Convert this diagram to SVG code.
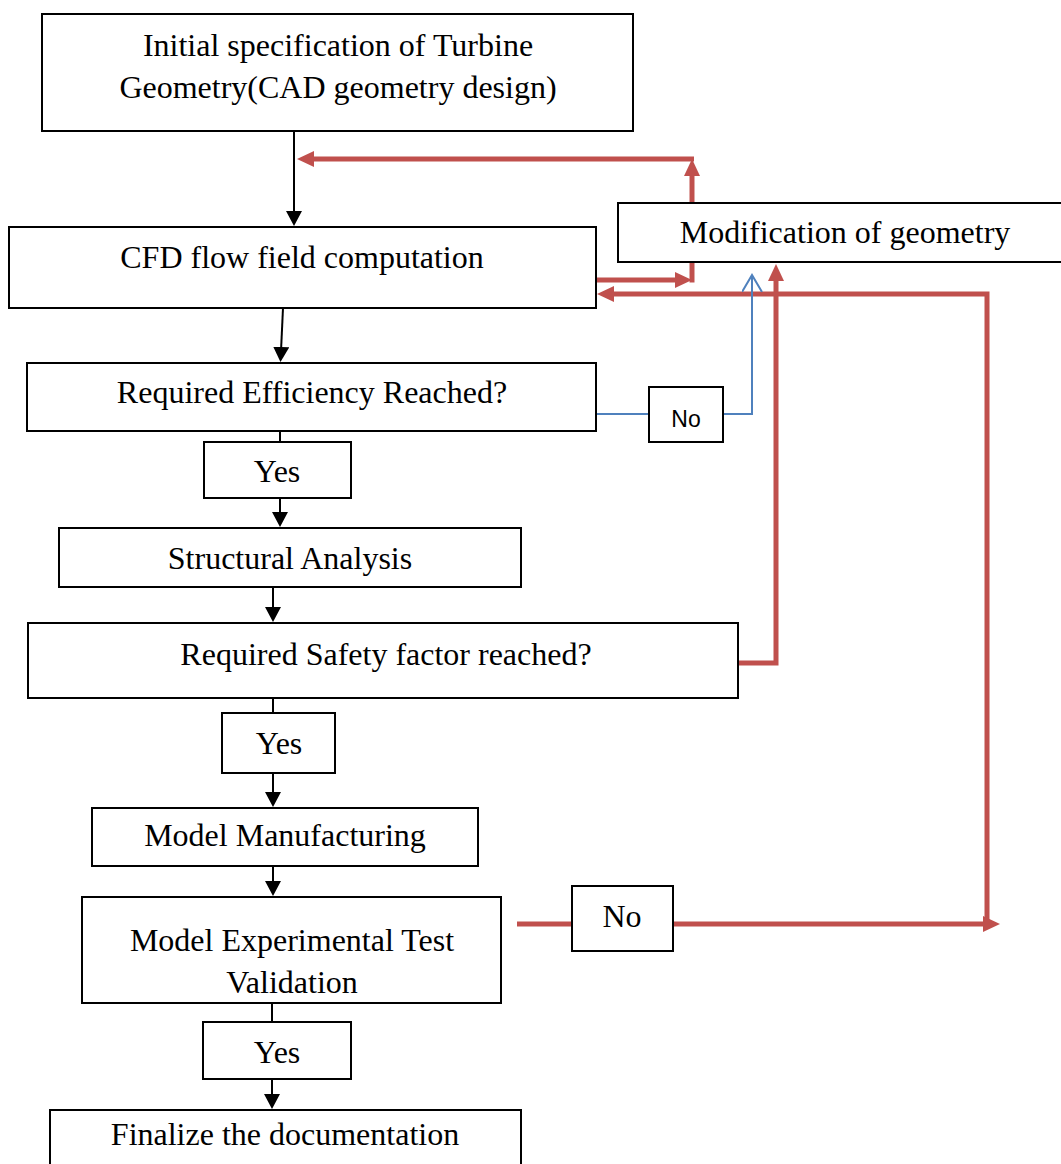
<svg xmlns="http://www.w3.org/2000/svg" width="1061" height="1164" viewBox="0 0 1061 1164">
<style>
.box{fill:#fff;stroke:#000;stroke-width:2}
.t{font-family:"Liberation Serif","Times New Roman",serif;font-size:32px;fill:#000;text-anchor:middle}
.s{font-family:"Liberation Sans",Arial,sans-serif;font-size:23px;fill:#000;text-anchor:middle}
.blk{stroke:#000;stroke-width:2;fill:none}
.red{stroke:#c0504d;stroke-width:5;fill:none}
.blue{stroke:#4f81bd;stroke-width:2;fill:none}
</style>
<defs>
<marker id="ab" markerUnits="userSpaceOnUse" markerWidth="18" markerHeight="18" refX="4" refY="8" orient="auto">
<path d="M0,0 L15,8 L0,16 z" fill="#000"/>
</marker>
<marker id="ar" markerUnits="userSpaceOnUse" markerWidth="20" markerHeight="20" refX="6" refY="8" orient="auto">
<path d="M0,0 L17,8 L0,16 z" fill="#c0504d"/>
</marker>
<marker id="ao" markerUnits="userSpaceOnUse" markerWidth="24" markerHeight="24" refX="17" refY="10" orient="auto">
<path d="M0,0 L17,10 L0,20" fill="none" stroke="#4f81bd" stroke-width="2"/>
</marker>
</defs>
<rect width="1061" height="1164" fill="#fff"/>

<g id="connectors">
<line class="blk" x1="294" y1="131" x2="294" y2="215" marker-end="url(#ab)"/>
<line class="blk" x1="283" y1="308" x2="281" y2="351" marker-end="url(#ab)"/>
<line class="blk" x1="280" y1="431" x2="280" y2="442"/>
<line class="blk" x1="280" y1="498" x2="280" y2="516" marker-end="url(#ab)"/>
<line class="blk" x1="273" y1="587" x2="273" y2="611" marker-end="url(#ab)"/>
<line class="blk" x1="273" y1="698" x2="273" y2="713"/>
<line class="blk" x1="273" y1="773" x2="273" y2="796" marker-end="url(#ab)"/>
<line class="blk" x1="273" y1="866" x2="273" y2="885" marker-end="url(#ab)"/>
<line class="blk" x1="272" y1="1003" x2="272" y2="1022"/>
<line class="blk" x1="272" y1="1079" x2="272" y2="1098" marker-end="url(#ab)"/>

<line class="red" x1="692" y1="203" x2="692" y2="170" marker-end="url(#ar)"/>
<line class="red" x1="694" y1="159" x2="308" y2="159" marker-end="url(#ar)"/>
<line class="red" x1="596" y1="280" x2="681" y2="280" marker-end="url(#ar)"/>
<line class="red" x1="692" y1="282.5" x2="692" y2="262"/>
<polyline class="red" points="736,663 776,663 776,275" marker-end="url(#ar)"/>
<line class="red" x1="517" y1="924" x2="572" y2="924"/>
<line class="red" x1="673" y1="924" x2="989" y2="924" marker-end="url(#ar)"/>
<polyline class="red" points="987,924 987,294 608,294" marker-end="url(#ar)"/>

<line class="blue" x1="596" y1="414" x2="649" y2="414"/>
<polyline class="blue" points="723,414 752,414 752,275" marker-end="url(#ao)"/>
</g>

<g id="n-initial"><rect class="box" x="42" y="14" width="591" height="117"/>
<text class="t" x="338" y="56">Initial specification of Turbine</text>
<text class="t" x="338" y="98">Geometry(CAD geometry design)</text></g>
<g id="n-cfd"><rect class="box" x="9" y="227" width="587" height="81"/>
<text class="t" x="302" y="268">CFD flow field computation</text></g>
<g id="n-mod"><rect class="box" x="618" y="203" width="450" height="59"/>
<text class="t" x="845" y="243">Modification of geometry</text></g>
<g id="n-eff"><rect class="box" x="27" y="363" width="569" height="68"/>
<text class="t" x="312" y="403">Required Efficiency Reached?</text></g>
<g id="n-no1"><rect class="box" x="649" y="387" width="74" height="55"/>
<text class="s" x="686" y="427">No</text></g>
<g id="n-yes1"><rect class="box" x="204" y="442" width="147" height="56"/>
<text class="t" x="277" y="482">Yes</text></g>
<g id="n-struct"><rect class="box" x="59" y="528" width="462" height="59"/>
<text class="t" x="290" y="569">Structural Analysis</text></g>
<g id="n-safety"><rect class="box" x="28" y="623" width="710" height="75"/>
<text class="t" x="386" y="665">Required Safety factor reached?</text></g>
<g id="n-yes2"><rect class="box" x="222" y="713" width="113" height="60"/>
<text class="t" x="279" y="754">Yes</text></g>
<g id="n-mm"><rect class="box" x="92" y="808" width="386" height="58"/>
<text class="t" x="285" y="846">Model Manufacturing</text></g>
<g id="n-met"><rect class="box" x="82" y="897" width="419" height="106"/>
<text class="t" x="292" y="951">Model Experimental Test</text>
<text class="t" x="292" y="993">Validation</text></g>
<g id="n-no2"><rect class="box" x="572" y="886" width="101" height="65"/>
<text class="t" x="622" y="927">No</text></g>
<g id="n-yes3"><rect class="box" x="203" y="1022" width="148" height="57"/>
<text class="t" x="277" y="1063">Yes</text></g>
<g id="n-final"><rect class="box" x="50" y="1110" width="471" height="70"/>
<text class="t" x="285" y="1145">Finalize the documentation</text></g>
</svg>
